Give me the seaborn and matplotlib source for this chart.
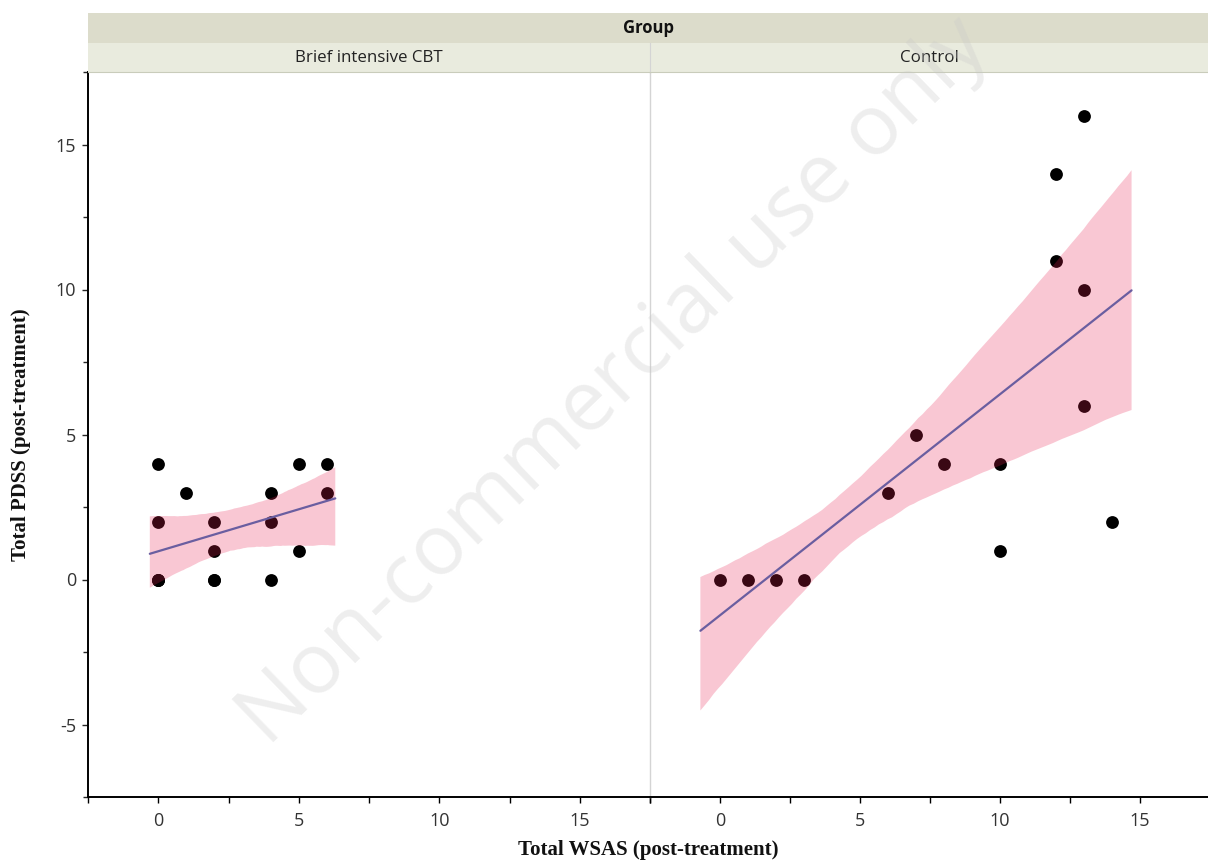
import numpy as np
import pandas as pd
import matplotlib
matplotlib.use("Agg")
import matplotlib.pyplot as plt
from matplotlib.ticker import MultipleLocator
import seaborn as sns

# data (integer scores, some points overlap)
cbt_wsas = [0, 0, 0, 0, 0, 1, 2, 2, 2, 2, 4, 4, 4, 5, 5, 6, 6]
cbt_pdss = [4, 2, 0, 0, 0, 3, 2, 1, 0, 0, 3, 2, 0, 4, 1, 4, 3]
ctrl_wsas = [0, 1, 2, 3, 6, 7, 8, 10, 10, 12, 12, 13, 13, 13, 14]
ctrl_pdss = [0, 0, 0, 0, 3, 5, 4, 4, 1, 14, 11, 16, 10, 6, 2]
groups = ["Brief intensive CBT", "Control"]

df = pd.concat([
    pd.DataFrame({"wsas": cbt_wsas, "pdss": cbt_pdss, "group": groups[0]}),
    pd.DataFrame({"wsas": ctrl_wsas, "pdss": ctrl_pdss, "group": groups[1]}),
])

sns.set_style("white")
plt.rcParams["font.family"] = ["Open Sans", "DejaVu Sans"]
plt.rcParams["axes.unicode_minus"] = False

W, H = 1208, 860
fig = plt.figure(figsize=(W / 100, H / 100), dpi=100)

def fx(px):
    return px / W

def fy(px):
    return 1 - px / H

band_col = "#e82050"
line_col = "#6a5ea0"
strip_top = "#dcdccb"
strip_sub = "#e9ebde"
divider = "#d4d4d4"

panels = [(88, 650, (-2.5, 17.5)), (650, 1208, (-2.5, 17.43))]
axes = []
for (x0, x1, xlim), g in zip(panels, groups):
    ax = fig.add_axes([fx(x0), fy(797), fx(x1 - x0), fy(72) - fy(797)])
    sub = df[df.group == g]
    sns.regplot(data=sub, x="wsas", y="pdss", ax=ax, ci=95, seed=0,
                n_boot=2000, truncate=False,
                scatter_kws=dict(color="black", s=85, linewidths=0, alpha=1),
                line_kws=dict(color=line_col, lw=1.6, zorder=3))
    band = ax.collections[-1]
    band.set_facecolor(band_col)
    band.set_alpha(0.25)
    band.set_edgecolor("none")
    ax.set_xlim(*xlim)
    ax.set_ylim(-7.5, 17.5)
    ax.xaxis.set_major_locator(MultipleLocator(5))
    ax.xaxis.set_minor_locator(MultipleLocator(2.5))
    ax.yaxis.set_major_locator(MultipleLocator(5))
    ax.yaxis.set_minor_locator(MultipleLocator(2.5))
    ax.set_xlabel("")
    ax.set_ylabel("")
    for s in ["top", "right"]:
        ax.spines[s].set_visible(False)
    ax.spines["bottom"].set_color("black")
    ax.spines["bottom"].set_linewidth(1.4)
    ax.tick_params(axis="x", which="both", direction="out", bottom=True,
                   length=4.5, width=1, color="black", labelsize=13,
                   labelcolor="#333333", pad=6)
    axes.append(ax)

ax_l, ax_r = axes
ax_l.spines["left"].set_color("black")
ax_l.spines["left"].set_linewidth(1.4)
ax_l.tick_params(axis="y", which="major", direction="out", left=True,
                 length=4.5, width=1, labelsize=13, labelcolor="#333333", pad=4)
ax_l.tick_params(axis="y", which="minor", direction="out", left=True,
                 length=3.5, width=1)
ax_r.spines["left"].set_color(divider)
ax_r.spines["left"].set_linewidth(1)
ax_r.tick_params(axis="y", which="both", left=False, labelleft=False)

# facet strips
top = fig.add_axes([fx(88), fy(43), fx(W - 88), fy(13) - fy(43)])
top.set_facecolor(strip_top)
top.set_xticks([])
top.set_yticks([])
for s in top.spines.values():
    s.set_visible(False)
top.text(fx(648 - 88) / fx(W - 88), 0.5, "Group", ha="center", va="center",
         fontsize=12, fontweight="bold", color="#111111")

for (x0, x1, _), g in zip(panels, groups):
    st = fig.add_axes([fx(x0), fy(72), fx(x1 - x0), fy(43) - fy(72)])
    st.set_facecolor(strip_sub)
    st.set_xticks([])
    st.set_yticks([])
    for s in st.spines.values():
        s.set_visible(False)
    st.spines["bottom"].set_visible(True)
    st.spines["bottom"].set_color("#c9ccbb")
    if x0 > 88:
        st.spines["left"].set_visible(True)
        st.spines["left"].set_color(divider)
    st.text(0.5, 0.5, g, ha="center", va="center", fontsize=12.2,
            color="#222222")

fig.text(fx(648), fy(850), "Total WSAS (post-treatment)", ha="center",
         va="center", fontsize=15, fontweight="bold",
         family="Liberation Serif", color="#111111")
fig.text(fx(21), fy(435), "Total PDSS (post-treatment)", ha="center",
         va="center", rotation=90, fontsize=15, fontweight="bold",
         family="Liberation Serif", color="#111111")

# faint watermark over everything
fig.text(fx(615), fy(382), "Non-commercial use only", rotation=44,
         ha="center", va="center", fontsize=61, color="#c8c8c8",
         alpha=0.3, zorder=10)

fig.savefig("out.png", dpi=100)
